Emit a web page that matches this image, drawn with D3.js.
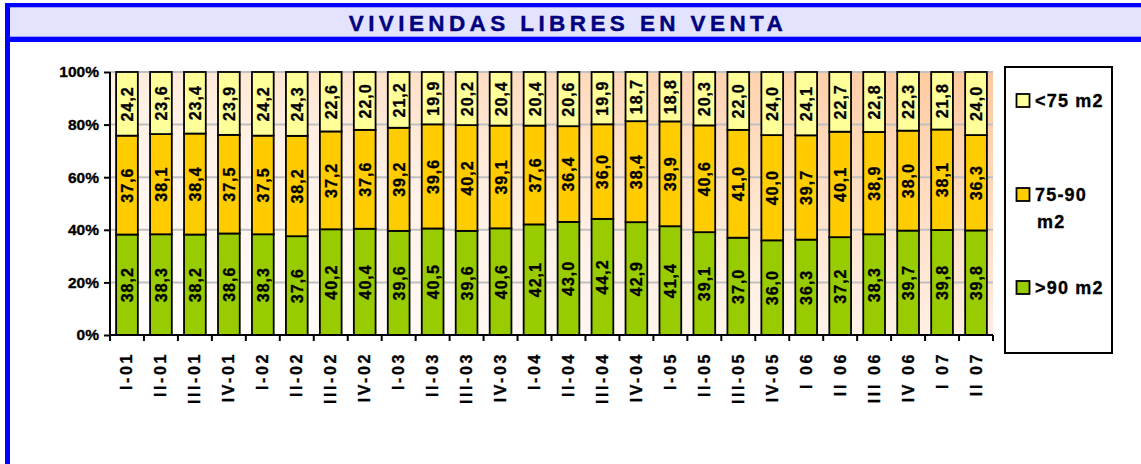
<!DOCTYPE html>
<html><head><meta charset="utf-8">
<script src="https://cdn.jsdelivr.net/npm/d3@7"></script>
<style>
html,body{margin:0;padding:0;background:#fff;}
svg{display:block;}
text{font-family:"Liberation Sans",Arial,sans-serif;font-weight:bold;}
</style></head>
<body>
<svg id="c" width="1141" height="464"></svg>
<script>
const categories = ["I-01","II-01","III-01","IV-01","I-02","II-02","III-02","IV-02","I-03","II-03","III-03","IV-03","I-04","II-04","III-04","IV-04","I-05","II-05","III-05","IV-05","I 06","II 06","III 06","IV 06","I 07","II 07"];
const over90 = [38.2,38.3,38.2,38.6,38.3,37.6,40.2,40.4,39.6,40.5,39.6,40.6,42.1,43.0,44.2,42.9,41.4,39.1,37.0,36.0,36.3,37.2,38.3,39.7,39.8,39.8];
const m75to90 = [37.6,38.1,38.4,37.5,37.5,38.2,37.2,37.6,39.2,39.6,40.2,39.1,37.6,36.4,36.0,38.4,39.9,40.6,41.0,40.0,39.7,40.1,38.9,38.0,38.1,36.3];
const under75 = [24.2,23.6,23.4,23.9,24.2,24.3,22.6,22.0,21.2,19.9,20.2,20.4,20.4,20.6,19.9,18.7,18.8,20.3,22.0,24.0,24.1,22.7,22.8,22.3,21.8,24.0];
const seriesNames = [">90 m2","75-90 m2","<75 m2"];
const yTicks = [0,0.2,0.4,0.6,0.8,1.0];
const title = "VIVIENDAS LIBRES EN VENTA";

const colors = ["#99CC00","#FFCC00","#FFFF99"];
const svg = d3.select("#c");
const W = 1141, H = 464;
const heavy = (sel)=>sel.attr("stroke","#000").attr("stroke-width",0.35);

// frame
svg.append("rect").attr("x",5).attr("y",3).attr("width",W-5).attr("height",H-3).attr("fill","#0000FF");
svg.append("rect").attr("x",10).attr("y",42).attr("width",W-10).attr("height",H-42).attr("fill","#fff");
svg.append("rect").attr("x",10).attr("y",7.3).attr("width",W-10).attr("height",29.4).attr("fill","#E3E3FD");
svg.append("text").attr("x",568).attr("y",31).attr("text-anchor","middle")
  .attr("fill","#000080").attr("stroke","#000080").attr("stroke-width",0.4)
  .style("font-size","22.5px").style("letter-spacing","4.4px").text(title);

const m = {l:110, r:993, t:72, b:335};
const x = d3.scaleBand().domain(categories).range([m.l,m.r]).paddingInner(0.36).paddingOuter(0.18);
const y = d3.scaleLinear().domain([0,1]).range([m.b,m.t]);

// gradient
const defs = svg.append("defs");
const g = defs.append("linearGradient").attr("id","bg").attr("x1","0").attr("y1","1").attr("x2","1").attr("y2","0");
g.append("stop").attr("offset","0").attr("stop-color","#FFFFFF");
g.append("stop").attr("offset","0.45").attr("stop-color","#FFF1E6");
g.append("stop").attr("offset","1").attr("stop-color","#FFC89C");
svg.append("rect").attr("x",m.l).attr("y",m.t).attr("width",m.r-m.l).attr("height",m.b-m.t).attr("fill","url(#bg)");

// gridlines
svg.append("g").selectAll("line").data(yTicks.slice(1)).join("line")
  .attr("x1",m.l).attr("x2",m.r).attr("y1",d=>y(d)).attr("y2",d=>y(d))
  .attr("stroke","#C0C0C0").attr("stroke-width",2);

// stack
const rows = categories.map((c,i)=>{
  const t = over90[i]+m75to90[i]+under75[i];
  return {cat:c, vals:[over90[i],m75to90[i],under75[i]], total:t};
});
const barsG = svg.append("g");
rows.forEach(r=>{
  let acc = 0;
  r.vals.forEach((v,k)=>{
    const y0 = acc/r.total, y1 = (acc+v)/r.total;
    acc += v;
    barsG.append("rect").attr("x",x(r.cat)).attr("width",x.bandwidth())
      .attr("y",y(y1)).attr("height",y(y0)-y(y1))
      .attr("fill",colors[k]).attr("stroke","#000").attr("stroke-width",1.8);
    const cx = x(r.cat)+x.bandwidth()/2, cy = (y(y0)+y(y1))/2;
    barsG.append("text").attr("transform",`translate(${cx+0.5},${cy}) rotate(-90)`)
      .attr("text-anchor","middle").attr("dominant-baseline","central")
      .style("font-size","16px").style("letter-spacing","1px").attr("fill","#000").call(heavy)
      .text(v.toFixed(1).replace(".",","));
  });
});

// axes
const yAxis = d3.axisLeft(y).tickValues(yTicks).tickFormat(d=>Math.round(d*100)+"%").tickSize(6).tickPadding(5);
const ya = svg.append("g").attr("transform",`translate(${m.l},0)`).call(yAxis);
ya.select(".domain").attr("stroke","#000").attr("stroke-width",2).attr("d",`M0,${m.t}V${m.b+6}`);
ya.selectAll(".tick line").attr("stroke","#000").attr("stroke-width",2);
ya.selectAll(".tick text").style("font-size","15.5px").attr("fill","#000").call(heavy)
  .style("font-family",'"Liberation Sans",Arial,sans-serif').style("font-weight","bold");

const xa = svg.append("g").attr("transform",`translate(0,${m.b})`);
xa.append("line").attr("x1",m.l).attr("x2",m.r).attr("y1",0).attr("y2",0).attr("stroke","#000").attr("stroke-width",2);
const bounds = d3.range(categories.length+1).map(i=>m.l + (m.r-m.l)*i/categories.length);
xa.selectAll("line.tk").data(bounds).join("line").attr("class","tk")
  .attr("x1",d=>d).attr("x2",d=>d).attr("y1",0).attr("y2",6).attr("stroke","#000").attr("stroke-width",2);
xa.selectAll("text").data(categories).join("text")
  .attr("transform",d=>`translate(${x(d)+x.bandwidth()/2},17) rotate(-90)`)
  .attr("text-anchor","end").attr("dominant-baseline","central")
  .style("font-size","16px").style("letter-spacing","2.6px").attr("fill","#000").call(heavy).text(d=>d);

// legend
const lg = svg.append("g");
lg.append("rect").attr("x",1005).attr("y",67).attr("width",107).attr("height",286)
  .attr("fill","#fff").attr("stroke","#000").attr("stroke-width",2);
const legItems = [
  {c:colors[2], lines:["<75 m2"], y:101},
  {c:colors[1], lines:["75-90","m2"], y:195},
  {c:colors[0], lines:[">90 m2"], y:288}
];
legItems.forEach(it=>{
  lg.append("rect").attr("x",1016.5).attr("y",it.y-7).attr("width",13).attr("height",13)
    .attr("fill",it.c).attr("stroke","#000").attr("stroke-width",1.8);
  it.lines.forEach((t,j)=>{
    lg.append("text").attr("x",j===0?1035:1037).attr("y",it.y+j*27).attr("dominant-baseline","central")
      .style("font-size","18px").style("letter-spacing","1.2px").attr("fill","#000").call(heavy).text(t);
  });
});
</script>
</body></html>
